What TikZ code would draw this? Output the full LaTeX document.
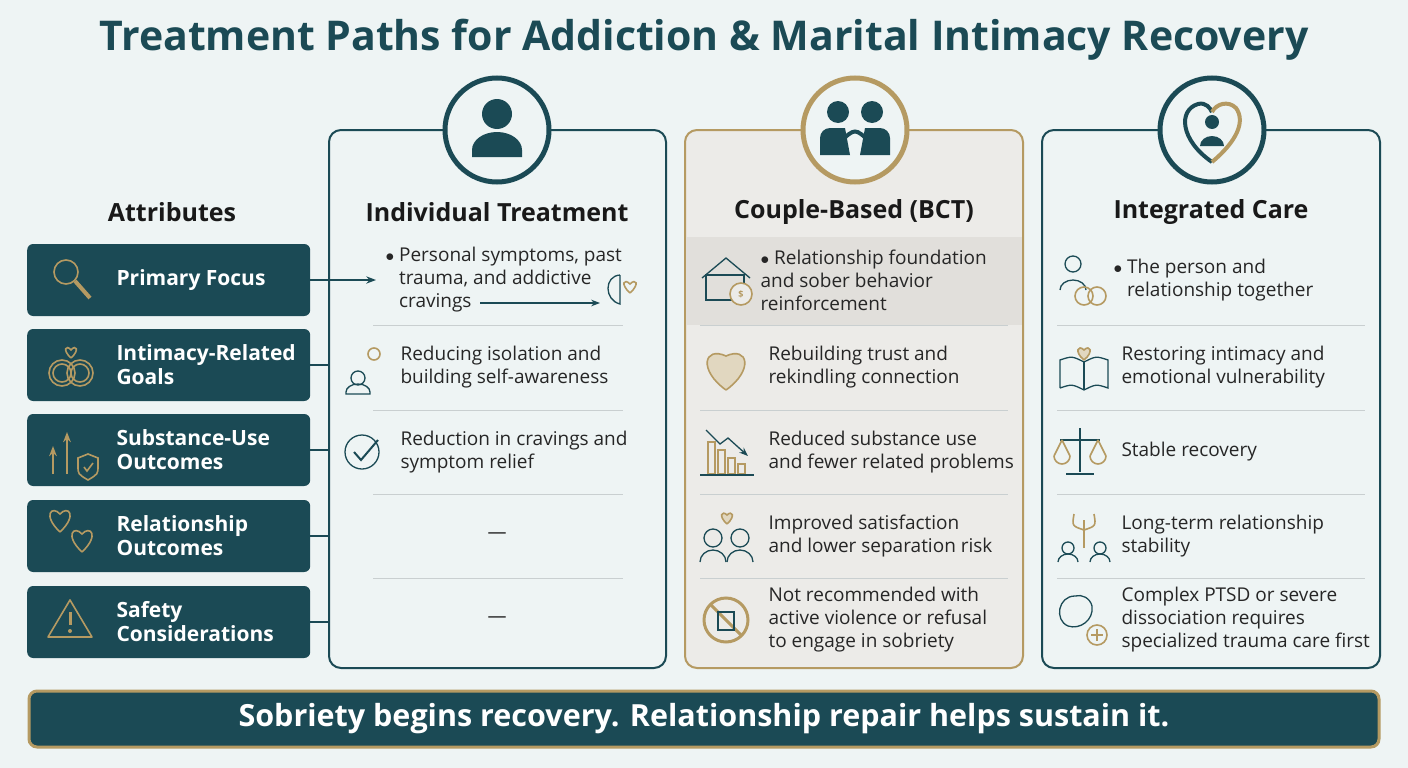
\documentclass[tikz,border=0pt]{standalone}
\usepackage{fontspec}
\setmainfont{Open Sans}
\usetikzlibrary{positioning,arrows.meta}
\definecolor{teal}{HTML}{1B4A55}
\definecolor{gold}{HTML}{B59A62}
\definecolor{bg}{HTML}{EEF4F4}
\definecolor{midbg}{HTML}{ECEBE8}
\definecolor{band}{HTML}{E1DFDB}
\definecolor{sepc}{HTML}{C9CFD0}
\tikzset{
  attr/.style={fill=teal, rounded corners=6pt, minimum width=283pt, minimum height=72pt, anchor=west},
  attrtxt/.style={text=white, font=\fontsize{21}{24}\selectfont\bfseries, align=left, anchor=west},
  col/.style={draw=teal, line width=2pt, rounded corners=12pt, fill=bg},
  head/.style={font=\fontsize{25}{28}\selectfont\bfseries, text=black!90},
  rowtxt/.style={font=\fontsize{19}{23}\selectfont, text=black!85, align=left, anchor=west},
  sep/.style={draw=sepc, line width=1pt},
  ring/.style={draw=teal, line width=5pt, fill=bg},
  ico/.style={draw=teal, line width=1.3pt},
  gico/.style={draw=gold, line width=1.6pt},
  stub/.style={draw=teal, line width=1.6pt},
}
\begin{document}
\begin{tikzpicture}[x=1pt,y=-1pt]
\useasboundingbox (0,0) rectangle (1408,768);
\fill[bg] (0,0) rectangle (1408,768);
% title
\node[font=\fontsize{41}{45}\selectfont\bfseries, text=teal] (title) at (704,40) {Treatment Paths for Addiction \& Marital Intimacy Recovery};

% columns
\draw[col] (329,130) rectangle (666,668);
\draw[col, draw=gold, fill=midbg] (685,130) rectangle (1023,668);
\fill[band] (686,237) rectangle (1022,325);
\draw[col] (1042,130) rectangle (1380,668);

% top circles
\draw[ring] (497,130) circle (52);
\draw[ring, draw=gold] (855,130) circle (52);
\draw[ring] (1212,130) circle (52);
% person icon
\fill[teal] (497,114) circle (15);
\fill[teal] (472,157) -- (472,150) arc (180:360:25 and 18) -- (522,157) -- cycle;
% couple icon
\fill[teal] (838,112) circle (11);
\fill[teal] (872,112) circle (11);
\fill[teal] (820,155) -- (820,138) arc (180:270:10) -- (845,128) -- (850,155) -- cycle;
\fill[teal] (890,155) -- (890,138) arc (0:-90:10) -- (865,128) -- (860,155) -- cycle;
\draw[teal, line width=4pt] (840,142) .. controls (855,128) .. (870,142);
% integrated icon
\draw[teal, line width=4pt] (1212,162) .. controls (1180,140) and (1178,110) .. (1198,104) .. controls (1206,102) and (1210,108) .. (1212,112);
\draw[gold, line width=4pt] (1212,112) .. controls (1216,104) and (1228,100) .. (1236,108) .. controls (1246,122) and (1236,142) .. (1212,162);
\fill[teal] (1212,122) circle (7);
\fill[teal] (1200,146) arc (180:360:12 and 10) -- cycle;

% attribute heading and boxes
\node[head] (atthead) at (172,212) {Attributes};
\foreach \n/\y/\t in {a1/280/{Primary Focus}, a2/365/{Intimacy-Related\\Goals}, a3/450/{Substance-Use\\Outcomes}, a4/536/{Relationship\\Outcomes}, a5/622/{Safety\\Considerations}}{
  \node[attr] (\n) at (27,\y) {};
  \node[attrtxt] at (113,\y) {\t};
  \draw[stub] (\n.east) -- (329,\y);
}
% attribute icons
\draw[gico] (66,272) circle (12); \draw[gold, line width=4pt] (75,281) -- (90,298);
\draw[gico] (62,373) circle (13); \draw[gico] (62,373) circle (9);
\draw[gico] (80,373) circle (13); \draw[gico] (80,373) circle (9);
\draw[gico] (71,358) .. controls (62,350) and (66,344) .. (71,350) .. controls (76,344) and (80,350) .. (71,358);
\draw[gico, -{Stealth}] (53,474) -- (53,446);
\draw[gico, -{Stealth}] (67,474) -- (67,432);
\draw[gico] (78,458) -- (88,454) -- (98,458) -- (98,466) .. controls (98,474) .. (88,480) .. controls (78,474) .. (78,466) -- cycle;
\draw[gico] (84,467) -- (87,471) -- (93,463);
\draw[gico] (60,532) .. controls (42,515) and (52,505) .. (60,514) .. controls (68,505) and (78,515) .. (60,532);
\draw[gico] (82,552) .. controls (64,535) and (74,525) .. (82,534) .. controls (90,525) and (100,535) .. (82,552);
\draw[gico, line join=round] (48,637) -- (70,600) -- (92,637) -- cycle;
\draw[gold, line width=3pt] (70,612) -- (70,625); \fill[gold] (70,631) circle (2);

% column headings
\node[head] (h1) at (497,212) {Individual Treatment};
\node[head] (h2) at (854,212) {Couple-Based (BCT)};
\node[head] (h3) at (1211,212) {Integrated Care};

% separators
\foreach \y in {325,410,494,578}{
  \draw[sep] (373,\y) -- (623,\y);
  \draw[sep] (700,\y) -- (1008,\y);
  \draw[sep] (1057,\y) -- (1365,\y);
}

% individual column
\node[rowtxt] (i1) at (382,280) {$\bullet$ Personal symptoms, past\\\phantom{$\bullet$ }trauma, and addictive\\\phantom{$\bullet$ }cravings};
\draw[teal, line width=1.5pt, -{Stealth}] (a1.east) -- (376,280);
\coordinate (brain) at (600,303);
\draw[teal, line width=1.3pt, -{Stealth}] (480,303) -- (brain);
\draw[ico] (620,275) .. controls (604,276) and (604,300) .. (620,304) -- (620,275);
\draw[gico] (630,293) .. controls (620,284) and (624,278) .. (630,284) .. controls (636,278) and (640,284) .. (630,293);
\node[rowtxt] (i2) at (397,367) {Reducing isolation and\\building self-awareness};
\draw[gico] (374,354) circle (6); \draw[ico] (358,378) circle (7);
\draw[ico] (346,394) -- (346,392) arc (180:360:12 and 8) -- (370,394) -- cycle;
\node[rowtxt] (i3) at (397,452) {Reduction in cravings and\\symptom relief};
\draw[ico] (362,452) circle (17); \draw[ico, line width=2pt] (354,452) -- (361,460) -- (378,440);
\node[rowtxt, anchor=center] (i4) at (497,536) {---};
\node[rowtxt, anchor=center] (i5) at (497,620) {---};

% couple column
\node[rowtxt] (c1) at (757,280) {$\bullet$ Relationship foundation\\and sober behavior\\reinforcement};
\draw[ico] (702,278) -- (726,258) -- (750,278); \draw[ico] (706,275) rectangle (744,300);
\draw[gico, fill=midbg] (741,294) circle (11); \node[text=gold, font=\small\bfseries] at (741,294) {\$};
\node[rowtxt] (c2) at (765,367) {Rebuilding trust and\\rekindling connection};
\draw[gico, fill=gold!40] (726,390) .. controls (698,370) and (704,346) .. (726,356) .. controls (748,346) and (754,370) .. (726,390);
\node[rowtxt] (c3) at (765,452) {Reduced substance use\\and fewer related problems};
\foreach \i/\h in {0/32,1/24,2/16,3/10}{\draw[gico] (708+\i*10,474) rectangle (715+\i*10,474-\h);}
\draw[ico, -{Stealth}] (706,430) -- (720,444) -- (728,438) -- (748,456);
\draw[ico] (700,475) -- (754,475);
\node[rowtxt] (c4) at (765,536) {Improved satisfaction\\and lower separation risk};
\draw[ico] (713,538) circle (9); \draw[ico] (740,538) circle (9);
\draw[ico] (700,562) arc (180:360:13 and 12); \draw[ico] (727,562) arc (180:360:13 and 12);
\draw[gico, fill=gold!40] (727,524) .. controls (718,516) and (722,510) .. (727,515) .. controls (732,510) and (736,516) .. (727,524);
\node[rowtxt] (c5) at (765,620) {Not recommended with\\active violence or refusal\\to engage in sobriety};
\draw[gold, line width=3pt] (726,620) circle (22); \draw[gold, line width=3pt] (711,605) -- (741,635);
\draw[ico] (718,630) rectangle (734,612);

% integrated column
\node[rowtxt] (g1) at (1110,280) {$\bullet$ The person and\\\phantom{$\bullet$ }relationship together};
\draw[ico] (1073,264) circle (8);
\draw[ico] (1060,290) arc (180:360:13 and 10);
\draw[gico] (1084,296) circle (9); \draw[gico] (1097,296) circle (9);
\node[rowtxt] (g2) at (1118,367) {Restoring intimacy and\\emotional vulnerability};
\draw[ico] (1060,388) -- (1060,360) .. controls (1072,356) .. (1084,362) .. controls (1096,356) .. (1108,360) -- (1108,388) .. controls (1096,384) .. (1084,390) .. controls (1072,384) .. (1060,388);
\draw[ico] (1084,362) -- (1084,390);
\draw[gico, fill=gold!40] (1084,360) .. controls (1074,352) and (1078,344) .. (1084,350) .. controls (1090,344) and (1094,352) .. (1084,360);
\node[rowtxt] (g3) at (1118,452) {Stable recovery};
\draw[ico] (1080,428) -- (1080,472); \draw[ico] (1066,474) -- (1094,474);
\draw[ico] (1060,440) -- (1100,440);
\draw[gico] (1054,456) arc (180:0:8); \draw[gico] (1090,456) arc (180:0:8);
\draw[gico] (1062,440) -- (1054,456); \draw[gico] (1062,440) -- (1070,456);
\draw[gico] (1098,440) -- (1090,456); \draw[gico] (1098,440) -- (1106,456);
\node[rowtxt] (g4) at (1118,536) {Long-term relationship\\stability};
\draw[gico] (1084,548) -- (1084,520); \draw[gico] (1084,530) .. controls (1072,526) .. (1074,514); \draw[gico] (1084,530) .. controls (1096,526) .. (1094,514);
\draw[ico] (1068,548) circle (6); \draw[ico] (1100,548) circle (6);
\draw[ico] (1058,562) arc (180:360:10 and 8); \draw[ico] (1090,562) arc (180:360:10 and 8);
\node[rowtxt] (g5) at (1118,620) {Complex PTSD or severe\\dissociation requires\\specialized trauma care first};
\draw[ico] (1075,596) .. controls (1058,596) and (1054,620) .. (1068,626) .. controls (1080,630) and (1094,620) .. (1092,606) .. controls (1090,598) and (1082,594) .. (1075,596);
\draw[gico, fill=bg] (1097,635) circle (10);
\draw[gold, line width=2pt] (1091,635) -- (1103,635) (1097,629) -- (1097,641);

% footer
\node[fill=teal, draw=gold, line width=3pt, rounded corners=8pt, minimum width=1350pt, minimum height=56pt, text=white, font=\fontsize{30.5}{34}\selectfont\bfseries] (foot) at (704,719) {Sobriety begins recovery. Relationship repair helps sustain it.};
\end{tikzpicture}
\end{document}
